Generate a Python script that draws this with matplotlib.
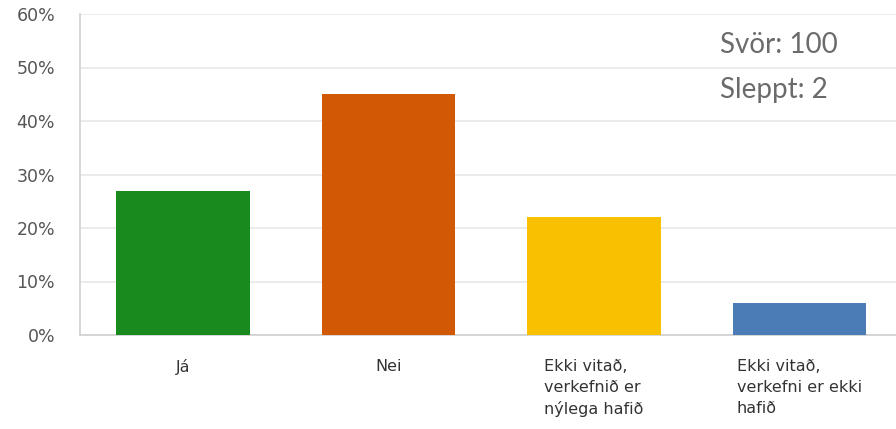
import matplotlib
matplotlib.use("Agg")
import matplotlib.pyplot as plt
from matplotlib.ticker import FuncFormatter

categories = ["Já", "Nei", "Ekki vitað,\nverkefnið er\nnýlega hafið", "Ekki vitað,\nverkefni er ekki\nhafið"]
values = [27, 45, 22, 6]
colors = ["#188a1e", "#d15906", "#f8c000", "#4c7cb6"]
yticks = [0, 10, 20, 30, 40, 50, 60]
note_lines = ["Svör: 100", "Sleppt: 2"]

fig = plt.figure(figsize=(8.96, 4.29), dpi=100)
ax = fig.add_axes([80/896, 1-335/429, 1-80/896, (335-14)/429])

x = list(range(len(categories)))
ax.bar(x, values, width=0.65, color=colors, zorder=3)
ax.set_xlim(-0.5, 3.47)
ax.set_ylim(0, 60)
ax.set_yticks(yticks)
ax.yaxis.set_major_formatter(FuncFormatter(lambda v, p: f"{int(v)}%"))
ax.grid(axis="y", color="#e8e8e8", linewidth=1.2, zorder=0)
for s in ["top", "right"]:
    ax.spines[s].set_visible(False)
for s in ["left", "bottom"]:
    ax.spines[s].set_color("#cfcfcf")
    ax.spines[s].set_linewidth(1.2)
ax.tick_params(axis="y", length=0, pad=18, labelsize=12.5, labelcolor="#555555")
ax.tick_params(axis="x", length=0, pad=17)
ax.set_xticks(x)
ax.set_xticklabels(categories, fontsize=11.5, color="#333333", family="DejaVu Sans",
                   linespacing=1.5, multialignment="left", va="top")
for lbl in ax.get_yticklabels():
    lbl.set_family("DejaVu Sans")
    lbl.set_va("center_baseline")

ax.text(0.784, 0.903, note_lines[0], transform=ax.transAxes, fontsize=20,
        color="#6b6b6b", family="Lato", va="center", ha="left")
ax.text(0.784, 0.763, note_lines[1], transform=ax.transAxes, fontsize=20,
        color="#6b6b6b", family="Lato", va="center", ha="left")

fig.savefig("out.png", dpi=100)
